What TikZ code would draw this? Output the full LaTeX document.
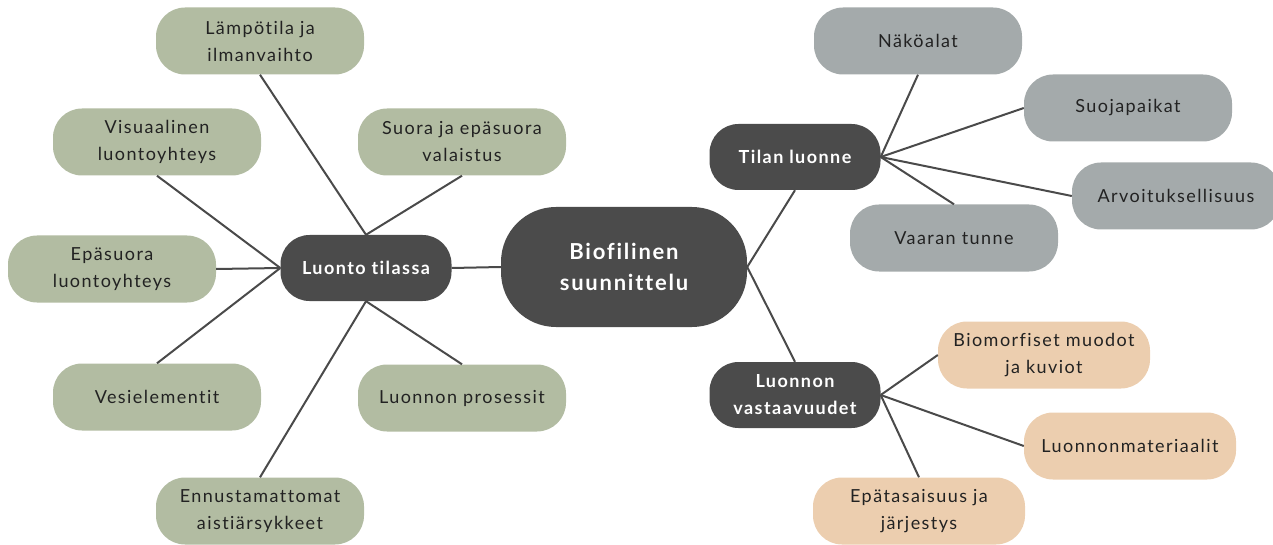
\documentclass[tikz,border=0pt]{standalone}
\usepackage{fontspec}
\setmainfont{Lato}
\newfontfamily\spaced[LetterSpace=8,Ligatures=NoCommon]{Lato}
\definecolor{sage}{HTML}{B2BCA2}
\definecolor{stone}{HTML}{A4AAAB}
\definecolor{peach}{HTML}{ECCEAF}
\definecolor{hub}{HTML}{4B4B4B}
\definecolor{ink}{HTML}{222222}
\definecolor{wire}{HTML}{4A4A4A}
\tikzset{
  leaf/.style={rounded corners=29pt, minimum width=208pt, minimum height=67pt,
    align=center, text=ink, font=\spaced\fontsize{18}{27}\selectfont, inner sep=0pt},
  greenleaf/.style={leaf, fill=sage},
  grayleaf/.style={leaf, fill=stone},
  peachleaf/.style={leaf, fill=peach, minimum width=212pt},
  hubnode/.style={rounded corners=29pt, minimum width=171pt, minimum height=66pt,
    align=center, fill=hub, text=white, font=\spaced\bfseries\fontsize{18}{27}\selectfont, inner sep=0pt},
  mainnode/.style={rounded corners=55pt, minimum width=246pt, minimum height=120pt,
    align=center, fill=hub, text=white, font=\spaced\bfseries\fontsize{22}{31}\selectfont, inner sep=0pt},
  link/.style={draw=wire, line width=2pt}
}
\begin{document}
\begin{tikzpicture}[x=1pt,y=-1pt]
\useasboundingbox (0,0) rectangle (1273,545);
% main
\node[mainnode] (bio) at (624,267) {Biofilinen\\suunnittelu};
% left hub
\node[hubnode] (lt) at (366,268) {Luonto tilassa};
\node[greenleaf] (lamp) at (260,41) {Lämpötila ja\\ilmanvaihto};
\node[greenleaf] (vis) at (157,142) {Visuaalinen\\luontoyhteys};
\node[greenleaf] (suora) at (462,142) {Suora ja epäsuora\\valaistus};
\node[greenleaf] (epa) at (112,269) {Epäsuora\\luontoyhteys};
\node[greenleaf] (vesi) at (157,397) {Vesielementit};
\node[greenleaf] (proc) at (462,398) {Luonnon prosessit};
\node[greenleaf] (enn) at (260,511) {Ennustamattomat\\aistiärsykkeet};
% right upper hub
\node[hubnode] (tl) at (795,157) {Tilan luonne};
\node[grayleaf] (nako) at (918,41) {Näköalat};
\node[grayleaf] (suoja) at (1128,108) {Suojapaikat};
\node[grayleaf] (arvo) at (1176,196) {Arvoituksellisuus};
\node[grayleaf] (vaara) at (954,238) {Vaaran tunne};
% right lower hub
\node[hubnode] (lv) at (795,395) {Luonnon\\vastaavuudet};
\node[peachleaf] (bmf) at (1044,355) {Biomorfiset muodot\\ja kuviot};
\node[peachleaf] (mat) at (1130,446) {Luonnonmateriaalit};
\node[peachleaf] (epat) at (919,511) {Epätasaisuus ja\\järjestys};
% connectors
\draw[link] (lamp.south) -- (lt.north);
\draw[link] (suora.south) -- (lt.north);
\draw[link] (vis.south) -- (lt.west);
\draw[link] (epa.east) -- (lt.west);
\draw[link] (vesi.north) -- (lt.west);
\draw[link] (enn.north) -- (lt.south);
\draw[link] (proc.north) -- (lt.south);
\draw[link] (lt.east) -- (bio.west);
\draw[link] (bio.east) -- (tl.south);
\draw[link] (bio.east) -- (lv.north);
\draw[link] (tl.east) -- (nako.south);
\draw[link] (tl.east) -- (suoja.west);
\draw[link] (tl.east) -- (arvo.west);
\draw[link] (tl.east) -- (vaara.north);
\draw[link] (lv.east) -- (bmf.west);
\draw[link] (lv.east) -- (mat.west);
\draw[link] (lv.east) -- (epat.north);
\end{tikzpicture}
\end{document}
